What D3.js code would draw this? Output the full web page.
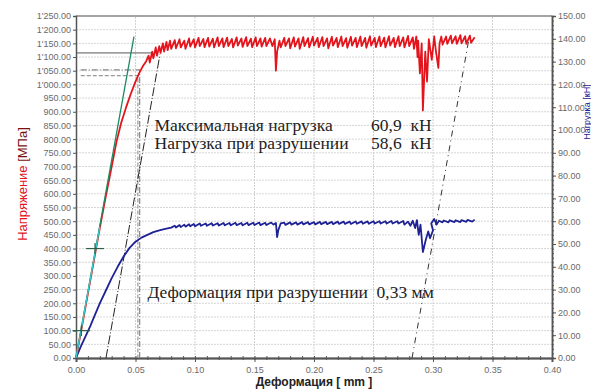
<!DOCTYPE html>
<html>
<head>
<meta charset="utf-8">
<script src="https://cdn.jsdelivr.net/npm/d3@7"></script>
<style>
  body { margin: 0; background: #fff; }
  svg { display: block; }
  .tick text { font-family: "Liberation Sans", Arial, sans-serif; font-size: 9px; fill: #6a6a6a; }
  .note { font-family: "Liberation Serif", "Times New Roman", serif; font-size: 17.5px; fill: #222; white-space: pre; }
</style>
</head>
<body>
<div id="chart"></div>
<script>
// tick values
var xTicks = [0, 0.05, 0.1, 0.15, 0.2, 0.25, 0.3, 0.35, 0.4];
var stressTicks = [0, 50, 100, 150, 200, 250, 300, 350, 400, 450, 500, 550, 600, 650, 700, 750, 800, 850, 900, 950, 1000, 1050, 1100, 1150, 1200, 1250];
var loadTicks = [0, 10, 20, 30, 40, 50, 60, 70, 80, 90, 100, 110, 120, 130, 140, 150];

// stress curve [deformation mm, MPa]
var stress = [
  [0,0],[0.005,115],[0.01,235],[0.015,355],[0.02,475],[0.025,590],[0.03,700],[0.034,790],[0.038,860],
  [0.042,915],[0.046,965],[0.05,1010],[0.053,1040],[0.056,1065],[0.059,1085],
  [0.061,1105],[0.062,1080],[0.064,1120],[0.065,1095],[0.067,1135],[0.068,1105],[0.070,1140],[0.071,1115],
  [0.073,1150],[0.074,1120],[0.076,1155],[0.077,1125],[0.079,1160],[0.080,1130],[0.083,1162],[0.084,1132],
  [0.087,1165],[0.088,1135],[0.091,1160],[0.092,1130],[0.095,1168],[0.096,1138],[0.099,1165],[0.1,1135],
  [0.103,1170],[0.104,1140],[0.107,1166],[0.108,1136],[0.111,1170],[0.112,1138],[0.115,1167],[0.116,1135],
  [0.119,1172],[0.12,1140],[0.123,1168],[0.124,1136],[0.127,1171],[0.128,1140],[0.131,1166],[0.132,1135],
  [0.135,1172],[0.136,1142],[0.139,1168],[0.14,1137],[0.143,1173],[0.144,1140],[0.147,1167],[0.148,1136],
  [0.151,1172],[0.152,1140],[0.155,1168],[0.156,1138],[0.159,1170],[0.16,1140],[0.163,1168],[0.165,1140],
  [0.167,1165],[0.168,1050],[0.169,1120],[0.171,1160],[0.172,1135],[0.175,1170],[0.176,1140],[0.179,1168],
  [0.18,1132],[0.183,1172],[0.184,1138],[0.187,1168],[0.188,1130],[0.191,1173],[0.192,1140],[0.195,1169],
  [0.196,1135],[0.199,1174],[0.2,1142],[0.203,1170],[0.204,1136],[0.207,1173],[0.208,1140],[0.211,1168],
  [0.212,1132],[0.215,1174],[0.216,1142],[0.219,1170],[0.22,1136],[0.223,1175],[0.224,1140],[0.227,1169],
  [0.228,1134],[0.231,1174],[0.232,1142],[0.235,1170],[0.236,1136],[0.239,1175],[0.24,1140],[0.243,1170],
  [0.244,1134],[0.247,1176],[0.248,1142],[0.251,1170],[0.252,1136],[0.255,1175],[0.256,1140],[0.259,1171],
  [0.26,1135],[0.263,1176],[0.264,1142],[0.267,1170],[0.268,1136],[0.271,1176],[0.272,1140],[0.275,1172],
  [0.276,1135],[0.279,1177],[0.28,1140],[0.283,1172],[0.284,1130],
  [0.286,1175],[0.287,1100],[0.2875,1160],[0.289,1040],[0.2905,1150],[0.2915,905],[0.2935,1120],[0.295,1010],
  [0.2965,1165],[0.299,1090],[0.301,1175],[0.3025,1120],[0.3045,1060],[0.3055,1150],[0.307,1175],
  [0.308,1145],[0.311,1175],[0.312,1148],[0.315,1178],[0.316,1150],[0.319,1176],[0.32,1148],[0.323,1180],
  [0.324,1150],[0.327,1176],[0.328,1148],[0.331,1178],[0.332,1152],[0.335,1172]
];

// load curve [deformation mm, kN]
var load = [
  [0,0],[0.004,5],[0.008,9.5],[0.012,14],[0.016,19],[0.02,24],[0.025,29.5],[0.03,35],[0.035,40],[0.04,44.5],
  [0.045,48.3],[0.05,51],[0.055,52.8],[0.06,54],[0.065,55.2],[0.07,56],[0.075,56.6],[0.08,57.2],
  [0.083,58],[0.084,57.2],[0.087,58.3],[0.088,57.4],[0.091,58.5],[0.092,57.6],[0.095,58.7],[0.096,57.8],
  [0.099,58.8],[0.1,57.8],[0.104,59],[0.105,58],[0.109,59],[0.11,58],[0.114,59.1],[0.115,58.1],[0.119,59.1],
  [0.12,58.1],[0.124,59.2],[0.125,58.2],[0.129,59.2],[0.13,58.2],[0.134,59.3],[0.135,58.3],[0.139,59.2],
  [0.14,58.2],[0.144,59.3],[0.145,58.3],[0.149,59.3],[0.15,58.3],[0.154,59.4],[0.155,58.3],[0.159,59.3],
  [0.16,58.3],[0.164,59.4],[0.166,58.5],[0.168,59.2],[0.169,53],[0.17,56],[0.172,59],[0.175,59.4],[0.176,58.4],
  [0.18,59.5],[0.181,58.5],[0.185,59.5],[0.186,58.5],[0.19,59.6],[0.191,58.6],[0.195,59.6],[0.196,58.6],
  [0.2,59.6],[0.201,58.6],[0.205,59.7],[0.206,58.7],[0.21,59.7],[0.211,58.7],[0.215,59.7],[0.216,58.7],
  [0.22,59.8],[0.221,58.8],[0.225,59.8],[0.226,58.8],[0.23,59.8],[0.231,58.8],[0.235,59.9],[0.236,58.9],
  [0.24,59.9],[0.241,58.9],[0.245,59.9],[0.246,58.9],[0.25,60],[0.251,59],[0.255,60],[0.256,59],[0.26,60],
  [0.261,59],[0.265,60.1],[0.266,59],[0.27,60],[0.271,59],[0.275,60.1],[0.276,58.5],[0.279,59.8],[0.281,58],
  [0.283,60.2],[0.285,57],[0.2865,60.5],[0.288,54],[0.2895,58.5],[0.2915,46.5],[0.294,52],[0.296,55.5],
  [0.2975,52.5],[0.3,56],[0.2985,59],[0.301,61],[0.303,58.5],[0.305,60.2],
  [0.308,59.5],[0.309,60.3],[0.313,59.5],[0.314,60.4],[0.318,59.6],[0.319,60.4],[0.323,59.6],[0.324,60.5],
  [0.328,59.7],[0.329,60.6],[0.333,59.8],[0.335,60.7]
];

// construction lines [deformation, MPa]
var modulusLine = [[0, 0], [0.0487, 1175]];
var modulusLineLow = [[0, 0], [0.02, 480]];
var offsetLine = [[0.0252, 0], [0.0706, 1110]];
var fractureLine = [[0.2824, 0], [0.330, 1162]];
var yieldLine = [[0, 1115], [0.064, 1115]];
var maxLevel = [[0.004, 1053], [0.0535, 1053], [0.0535, 0]];
var breakLevel = [[0.004, 1032], [0.052, 1032], [0.052, 0]];
var crosses = [[0.0045, 100], [0.016, 400]];

var notes = [
  { text: "Максимальная нагрузка", value: "60,9  кН", x: 0.066, y: 830 },
  { text: "Нагрузка при разрушении", value: "58,6  кН", x: 0.066, y: 764 }
];
var breakNote = "Деформация при разрушении  0,33 мм";

var width = 591, height = 389;
var x = d3.scaleLinear().domain([0, 0.4]).range([76, 552]);
var yL = d3.scaleLinear().domain([0, 1250]).range([358, 16]);
var yR = d3.scaleLinear().domain([0, 150]).range([358, 16]);

var svg = d3.select("#chart").append("svg")
  .attr("width", width)
  .attr("height", height);

// grid
var grid = svg.append("g");
grid.selectAll(".hg").data(stressTicks.slice(1)).enter().append("line")
  .attr("x1", x(0)).attr("x2", x(0.4))
  .attr("y1", d => yL(d)).attr("y2", d => yL(d))
  .attr("stroke", "#d6d6d6").attr("stroke-dasharray", "2,1");
grid.selectAll(".vg").data(xTicks.slice(1, -1)).enter().append("line")
  .attr("y1", yL(0)).attr("y2", yL(1250))
  .attr("x1", d => x(d)).attr("x2", d => x(d))
  .attr("stroke", "#d0d0d0").attr("stroke-dasharray", "2,1");

// frame
svg.append("line").attr("x1", x(0)).attr("x2", x(0.4)).attr("y1", yL(1250)).attr("y2", yL(1250))
  .attr("stroke", "#8a8a8a").attr("stroke-width", 1.5);

var fmt = d3.formatLocale({ decimal: ".", thousands: "'", grouping: [3], currency: ["", ""] }).format(",.2f");

var leftAxis = svg.append("g").attr("transform", "translate(" + x(0) + ",0)")
  .call(d3.axisLeft(yL).tickValues(stressTicks).tickFormat(fmt).tickSize(3).tickPadding(2));
var rightAxis = svg.append("g").attr("transform", "translate(" + x(0.4) + ",0)")
  .call(d3.axisRight(yR).tickValues(loadTicks).tickFormat(d3.format(".2f")).tickSize(4).tickPadding(2));
var bottomAxis = svg.append("g").attr("transform", "translate(0," + yL(0) + ")")
  .call(d3.axisBottom(x).tickValues(xTicks).tickFormat(d3.format(".2f")).tickSize(4).tickPadding(5));

// minor ticks
var rightMinor = svg.append("g").attr("transform", "translate(" + x(0.4) + ",0)")
  .call(d3.axisRight(yR).ticks(75).tickFormat("").tickSize(2));
var bottomMinor = svg.append("g").attr("transform", "translate(0," + yL(0) + ")")
  .call(d3.axisBottom(x).ticks(40).tickFormat("").tickSizeInner(2).tickSizeOuter(0));
bottomMinor.selectAll(".tick line").attr("y1", -2);

[leftAxis, rightAxis, bottomAxis, rightMinor, bottomMinor].forEach(function (a) {
  a.select(".domain").attr("stroke", "#555").attr("stroke-width", 1.5);
  a.selectAll(".tick line").attr("stroke", "#555");
});
bottomAxis.select(".domain").attr("stroke-width", 2);

var lineL = d3.line().x(d => x(d[0])).y(d => yL(d[1]));
var lineR = d3.line().x(d => x(d[0])).y(d => yR(d[1]));

// construction lines
svg.append("path").attr("d", lineL(yieldLine)).attr("fill", "none")
  .attr("stroke", "#555").attr("stroke-width", 1);
svg.append("path").attr("d", lineL(maxLevel)).attr("fill", "none")
  .attr("stroke", "#888").attr("stroke-width", 1.2).attr("stroke-dasharray", "6,2,1,2");
svg.append("path").attr("d", lineL(breakLevel)).attr("fill", "none")
  .attr("stroke", "#999").attr("stroke-width", 1.2).attr("stroke-dasharray", "4,2");
svg.append("path").attr("d", lineL(offsetLine)).attr("fill", "none")
  .attr("stroke", "#222").attr("stroke-width", 1).attr("stroke-dasharray", "9,2,1,2");
svg.append("path").attr("d", lineL(fractureLine)).attr("fill", "none")
  .attr("stroke", "#333").attr("stroke-width", 1).attr("stroke-dasharray", "6,4,1,4");

// load (blue) curve
svg.append("path").attr("d", lineR(load)).attr("fill", "none")
  .attr("stroke", "#1f2294").attr("stroke-width", 1.8).attr("stroke-linejoin", "round");

// stress (red) curve
svg.append("path").attr("d", lineL(stress)).attr("fill", "none")
  .attr("stroke", "#e3141c").attr("stroke-width", 1.8).attr("stroke-linejoin", "round");

// modulus lines
svg.append("path").attr("d", lineL(modulusLine)).attr("fill", "none")
  .attr("stroke", "#1d8a60").attr("stroke-width", 1.3);
svg.append("path").attr("d", lineL(modulusLineLow)).attr("fill", "none")
  .attr("stroke", "#3cc9cf").attr("stroke-width", 1.3);

// crosses
var cr = svg.append("g").selectAll("g").data(crosses).enter().append("g");
cr.append("line")
  .attr("x1", d => x(d[0] - 0.0075)).attr("x2", d => x(d[0] + 0.0075))
  .attr("y1", d => yL(d[1])).attr("y2", d => yL(d[1]))
  .attr("stroke", "#2f5f4a").attr("stroke-width", 1.2);
cr.append("line")
  .attr("x1", d => x(d[0])).attr("x2", d => x(d[0]))
  .attr("y1", d => yL(d[1] - 20)).attr("y2", d => yL(d[1] + 20))
  .attr("stroke", "#2f5f4a").attr("stroke-width", 1.2);

// notes
var nt = svg.append("g").selectAll("g").data(notes).enter().append("g");
nt.append("text").attr("class", "note")
  .attr("x", d => x(d.x)).attr("y", d => yL(d.y))
  .text(d => d.text);
nt.append("text").attr("class", "note")
  .attr("x", x(0.248)).attr("y", d => yL(d.y))
  .text(d => d.value);
svg.append("text").attr("class", "note")
  .attr("x", x(0.06)).attr("y", yL(218))
  .text(breakNote);

// axis titles
var lt = svg.append("text")
  .attr("transform", "translate(27,184) rotate(-90)")
  .attr("text-anchor", "middle")
  .style("font-family", "'Liberation Sans', Arial, sans-serif")
  .style("font-size", "13px");
lt.append("tspan").attr("fill", "#e3141c").text("Напряжение ");
lt.append("tspan").attr("fill", "#7a1010").text("[МПа]");

svg.append("text")
  .attr("transform", "translate(590,112) rotate(-90)")
  .attr("text-anchor", "middle")
  .attr("fill", "#1f2294")
  .style("font-family", "'Liberation Sans', Arial, sans-serif")
  .style("font-size", "9px")
  .text("Нагрузка [кН]");

svg.append("text")
  .attr("x", x(0.2)).attr("y", 386)
  .attr("text-anchor", "middle")
  .attr("fill", "#222")
  .style("font-family", "'Liberation Sans', Arial, sans-serif")
  .style("font-size", "12px")
  .style("font-weight", "bold")
  .text("Деформация [ mm ]");
</script>
</body>
</html>
